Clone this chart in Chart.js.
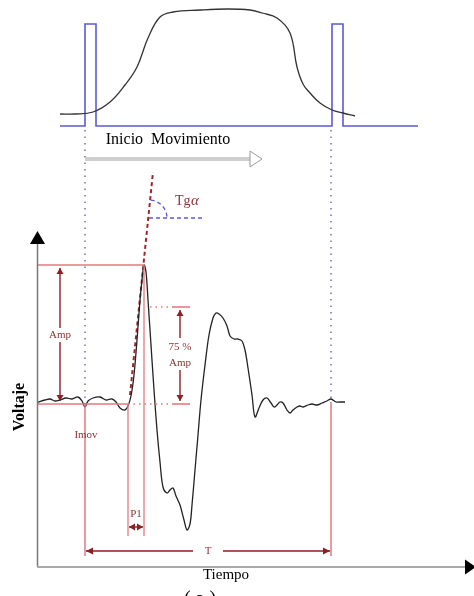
<!DOCTYPE html>
<html lang="es">
<head>
<meta charset="UTF-8">
<title>Inicio Movimiento - EMG</title>
<script src="https://cdn.jsdelivr.net/npm/chart.js"></script>
<style>
    html, body { margin: 0; padding: 0; background: #fff; }
    .wrap { width: 474px; height: 596px; position: relative; }
</style>
</head>
<body>
<div class="wrap"><canvas id="emgChart"></canvas></div>
<script>
// movement trace (top), drawn in the diagram's own units (x: time, y: level, top = 0)
const movX = [60, 75, 93, 110, 125, 137, 148, 160, 173, 200, 227, 250, 262, 277, 290, 297, 303, 310, 320, 332, 343, 355];
const movY = [114, 114, 112, 102, 85, 67, 38, 17, 12, 10, 9, 10, 13, 18, 33, 67, 84, 93, 103, 110, 113, 116];

// trigger pulses
const pulseX = [60, 85, 85, 96, 96, 332, 332, 343, 343, 418];
const pulseY = [126, 126, 24, 24, 126, 126, 24, 24, 126, 126];

// EMG response
const emgX = [38, 45, 50, 55, 60, 66, 72, 78, 82, 85, 88, 93, 100, 106, 112, 116, 120, 125, 128, 131, 134, 137, 140, 142, 144, 146, 148, 151, 154, 157, 160, 163, 167, 170, 173, 176, 180, 184, 187, 190, 192, 195, 198, 201, 205, 209, 213, 216, 219, 223, 227, 230, 234, 238, 242, 245, 248, 252, 255, 259, 263, 267, 271, 274, 277, 280, 283, 287, 290, 293, 297, 300, 303, 308, 312, 317, 322, 327, 331, 336, 340, 345];
const emgY = [402, 400, 399, 401, 400, 398, 399, 397, 401, 407, 401, 398, 397, 400, 399, 402, 408, 410, 406, 396, 375, 340, 300, 280, 265, 272, 300, 345, 390, 430, 462, 487, 493, 490, 488, 496, 505, 520, 530, 524, 505, 470, 435, 400, 365, 335, 318, 313, 314, 318, 326, 336, 339, 339, 341, 350, 368, 395, 417, 408, 400, 398, 403, 407, 405, 402, 403, 410, 413, 410, 407, 406, 407, 405, 404, 405, 403, 401, 399, 402, 402, 402];

// reference levels and instants
const baseV = 404, peakV = 265, pct75V = 307;
const tImov = 85, tOnset = 128, tPeak = 144, tEnd = 331;
const tangentX = [130, 153];
const tangentY = [395, 172];

const red = '#e47a7f', dark = '#8e1f22', txt = '#8a3535', blue = '#5a5ad8', dotBlue = '#7b7bbd';

function seg(x1, y1, x2, y2, color, width, dash) {
    return {
        data: [{x: x1, y: y1}, {x: x2, y: y2}],
        showLine: true, borderColor: color, borderWidth: width,
        borderDash: dash || [], pointRadius: 0, tension: 0
    };
}

const datasets = [
    {
        data: movX.map((x, i) => ({x: x, y: movY[i]})),
        showLine: true, borderColor: '#333', borderWidth: 1.3, pointRadius: 0, tension: 0.4
    },
    {
        data: pulseX.map((x, i) => ({x: x, y: pulseY[i]})),
        showLine: true, borderColor: blue, borderWidth: 1.6, pointRadius: 0, tension: 0
    },
    // dotted guides from the pulses down to the EMG
    seg(tImov, 130, tImov, baseV, dotBlue, 1.6, [1.5, 5]),
    seg(tEnd, 130, tEnd, baseV - 4, dotBlue, 1.6, [1.5, 5]),
    // red level lines
    seg(37, peakV, tPeak, peakV, red, 1.3),
    seg(37, baseV, tOnset, baseV, red, 1.6),
    seg(tOnset, baseV, 172, baseV, red, 1.3, [1.5, 4]),
    seg(150, pct75V, 172, pct75V, red, 1.3, [1.5, 4]),
    seg(172, pct75V, 190, pct75V, red, 1.6),
    seg(172, baseV, 190, baseV, red, 1.6),
    seg(tImov, baseV, tImov, 556, red, 1.5),
    seg(tOnset, baseV, tOnset, 536, red, 1.3),
    seg(tPeak, peakV, tPeak, 536, red, 1.3),
    seg(tEnd, baseV - 2, tEnd, 556, red, 1.5),
    {
        data: emgX.map((x, i) => ({x: x, y: emgY[i]})),
        showLine: true, borderColor: '#222', borderWidth: 1.3, pointRadius: 0, tension: 0.35
    },
    // tangent at onset slope
    {
        data: tangentX.map((x, i) => ({x: x, y: tangentY[i]})),
        showLine: true, borderColor: '#a0262a', borderWidth: 2, borderDash: [4, 3], pointRadius: 0
    }
];

function head(ctx, x, y, ang, len, w, color) {
    ctx.save();
    ctx.translate(x, y);
    ctx.rotate(ang);
    ctx.fillStyle = color;
    ctx.beginPath();
    ctx.moveTo(0, 0);
    ctx.lineTo(-len, -w);
    ctx.lineTo(-len, w);
    ctx.closePath();
    ctx.fill();
    ctx.restore();
}

function dimArrow(ctx, x1, y1, x2, y2, color) {
    ctx.strokeStyle = color;
    ctx.lineWidth = 1.4;
    ctx.beginPath();
    ctx.moveTo(x1, y1);
    ctx.lineTo(x2, y2);
    ctx.stroke();
    const a = Math.atan2(y2 - y1, x2 - x1);
    head(ctx, x2, y2, a, 6, 3.5, color);
    head(ctx, x1, y1, a + Math.PI, 6, 3.5, color);
}

const annotations = {
    id: 'annotations',
    afterDatasetsDraw(chart) {
        const ctx = chart.ctx;
        const sx = v => chart.scales.x.getPixelForValue(v);
        const sy = v => chart.scales.y.getPixelForValue(v);
        ctx.save();

        // axes
        ctx.strokeStyle = '#777';
        ctx.lineWidth = 1.5;
        ctx.beginPath();
        ctx.moveTo(sx(37.5), sy(244));
        ctx.lineTo(sx(37.5), sy(567));
        ctx.stroke();
        ctx.strokeStyle = '#aaa';
        ctx.lineWidth = 2;
        ctx.beginPath();
        ctx.moveTo(sx(37), sy(567));
        ctx.lineTo(sx(466), sy(567));
        ctx.stroke();
        head(ctx, sx(37.5), sy(231), -Math.PI / 2, 13, 7.5, '#000');
        head(ctx, sx(476), sy(567), 0, 11, 7.5, '#000');

        // gray movement arrow
        ctx.fillStyle = '#cfcfcf';
        ctx.strokeStyle = '#9a9a9a';
        ctx.lineWidth = 1;
        ctx.fillRect(sx(85), sy(157), sx(250) - sx(85), 4);
        ctx.beginPath();
        ctx.moveTo(sx(250), sy(151));
        ctx.lineTo(sx(262), sy(159));
        ctx.lineTo(sx(250), sy(167));
        ctx.closePath();
        ctx.fillStyle = '#fff';
        ctx.fill();
        ctx.stroke();

        // Tg alpha marker
        ctx.strokeStyle = '#5a5ad8';
        ctx.lineWidth = 1.3;
        ctx.setLineDash([4, 3]);
        ctx.beginPath();
        ctx.moveTo(sx(149), sy(218));
        ctx.lineTo(sx(204), sy(218));
        ctx.stroke();
        ctx.beginPath();
        ctx.arc(sx(149), sy(218), 18, -Math.PI * 0.47, 0);
        ctx.stroke();
        ctx.setLineDash([]);

        // dimension arrows
        dimArrow(ctx, sx(60), sy(peakV + 3), sx(60), sy(baseV - 3), dark);
        dimArrow(ctx, sx(180), sy(pct75V + 3), sx(180), sy(baseV - 3), dark);
        dimArrow(ctx, sx(tOnset + 1), sy(527), sx(tPeak - 1), sy(527), dark);
        // T arrow with gap for label
        ctx.strokeStyle = dark;
        ctx.lineWidth = 1.4;
        ctx.beginPath();
        ctx.moveTo(sx(tImov + 1), sy(551));
        ctx.lineTo(sx(193), sy(551));
        ctx.moveTo(sx(223), sy(551));
        ctx.lineTo(sx(tEnd - 1), sy(551));
        ctx.stroke();
        head(ctx, sx(tImov + 1), sy(551), Math.PI, 7, 3.5, dark);
        head(ctx, sx(tEnd - 1), sy(551), 0, 7, 3.5, dark);

        // texts
        ctx.textAlign = 'center';
        ctx.textBaseline = 'middle';
        ctx.fillStyle = '#000';
        ctx.font = '16px "Liberation Serif"';
        ctx.fillText('Inicio  Movimiento', sx(168), sy(140));
        ctx.font = '15px "Liberation Serif"';
        ctx.fillText('Tiempo', sx(226), sy(575));
        ctx.font = '20px "Liberation Serif"';
        ctx.textBaseline = 'top';
        ctx.fillText('( a )', sx(200), sy(590));
        ctx.textBaseline = 'middle';

        ctx.save();
        ctx.translate(sx(20), sy(407));
        ctx.rotate(-Math.PI / 2);
        ctx.font = 'bold 16px "Liberation Serif"';
        ctx.fillText('Voltaje', 0, 0);
        ctx.restore();

        ctx.font = '11px "Liberation Serif"';
        ctx.fillStyle = '#fff';
        ctx.fillRect(sx(48), sy(328), 25, 14);
        ctx.fillRect(sx(166), sy(338), 28, 32);
        ctx.fillStyle = txt;
        ctx.fillText('Amp', sx(60), sy(335));
        ctx.fillText('75 %', sx(180), sy(347));
        ctx.fillText('Amp', sx(180), sy(363));
        ctx.fillText('Imov', sx(86), sy(435));
        ctx.fillText('P1', sx(136), sy(514));
        ctx.fillText('T', sx(208), sy(551));
        ctx.font = '14px "Liberation Serif"';
        ctx.textAlign = 'left';
        ctx.fillText('Tg', sx(175), sy(201));
        ctx.font = 'italic 15px "Liberation Serif"';
        ctx.fillText('α', sx(191), sy(201));

        ctx.restore();
    }
};

new Chart(document.getElementById('emgChart'), {
    type: 'scatter',
    data: { datasets: datasets },
    options: {
        responsive: true,
        maintainAspectRatio: false,
        animation: false,
        layout: { padding: 0 },
        plugins: { legend: { display: false }, tooltip: { enabled: false } },
        scales: {
            x: { type: 'linear', min: 0, max: 474, display: false },
            y: { type: 'linear', min: 0, max: 596, reverse: true, display: false }
        }
    },
    plugins: [annotations]
});
</script>
</body>
</html>
